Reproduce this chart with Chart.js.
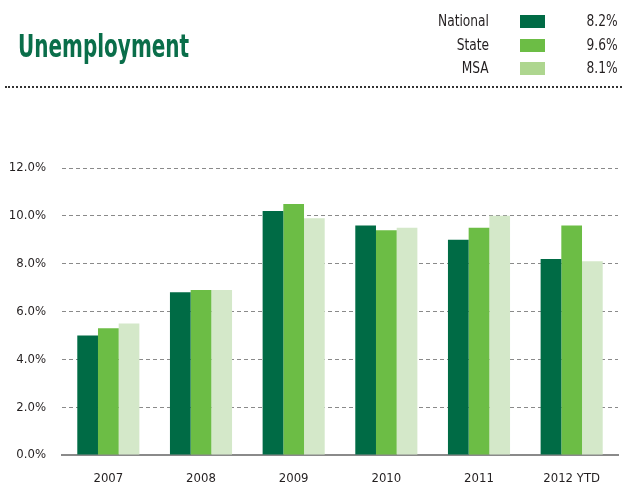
<!DOCTYPE html>
<html>
<head>
<meta charset="utf-8">
<script src="https://cdn.jsdelivr.net/npm/chart.js@4"></script>
<style>
  body { margin: 0; width: 627px; height: 485px; background: #fff; overflow: hidden;
         font-family: "DejaVu Sans Condensed", sans-serif; color: #231f20; }
  #wrap { position: absolute; left: 0; top: 0; width: 627px; height: 485px; }
  #title { position: absolute; left: 18px; top: 27px; font-size: 32px; font-weight: bold; color: #0a6e4a;
           transform-origin: left top; white-space: nowrap; }
  #dots { position: absolute; left: 5px; top: 86px; width: 617px; border-top: 2px dotted #333; }
  .lrow { position: absolute; left: 0; width: 627px; height: 20px; font-size: 16px; }
  .lrow .name { position: absolute; right: 138px; text-align: right; top: 0; white-space: nowrap;
                transform: scaleX(0.85); transform-origin: right top; }
  .lrow .sw { position: absolute; left: 520px; width: 25px; height: 13px; top: 4px; }
  .lrow .val { position: absolute; right: 9px; text-align: right; top: 0; white-space: nowrap;
               transform: scaleX(0.85); transform-origin: right top; }
</style>
</head>
<body>
<div id="wrap"><canvas id="chart1" width="627" height="485"></canvas></div>
<div id="title">Unemployment</div>
<div id="legend"></div>
<div id="dots"></div>
<script>
const categories = ["2007", "2008", "2009", "2010", "2011", "2012 YTD"];
const national = [5.0, 6.8, 10.2, 9.6, 9.0, 8.2];
const state = [5.3, 6.9, 10.5, 9.4, 9.5, 9.6];
const msa = [5.5, 6.9, 9.9, 9.5, 10.0, 8.1];
const seriesNames = ["National", "State", "MSA"];
const barColors = ["#006b45", "#6cbd45", "#d4e8c9"];
const legendColors = ["#006b45", "#6cbd45", "#aed68f"];

// squeeze the title to the condensed width of the original
const title = document.getElementById("title");
title.style.transform = "scaleX(" + (171 / title.offsetWidth) + ")";

// legend with latest values
const legend = document.getElementById("legend");
[national, state, msa].forEach((s, i) => {
  const row = document.createElement("div");
  row.className = "lrow";
  row.style.top = (11 + i * 23.5) + "px";
  row.innerHTML = '<span class="name">' + seriesNames[i] + '</span>' +
    '<span class="sw" style="background:' + legendColors[i] + '"></span>' +
    '<span class="val">' + s[s.length - 1].toFixed(1) + '%</span>';
  legend.appendChild(row);
});

const tickFont = { family: "'DejaVu Sans Condensed', sans-serif", size: 13 };

new Chart(document.getElementById("chart1"), {
  type: "bar",
  data: {
    labels: categories,
    datasets: [national, state, msa].map((d, i) => ({
      label: seriesNames[i],
      data: d,
      backgroundColor: barColors[i],
      borderWidth: 0,
      categoryPercentage: 0.67,
      barPercentage: 1,
    })),
  },
  options: {
    responsive: false,
    animation: false,
    layout: { padding: { top: 168, right: 9, left: 0, bottom: 0 } },
    plugins: { legend: { display: false }, tooltip: { enabled: false } },
    scales: {
      x: {
        grid: { display: false },
        border: { display: true, color: "#8a8a8a", width: 2 },
        ticks: { color: "#231f20", font: tickFont, padding: 8, maxRotation: 0 },
        afterFit: (s) => { s.height = 30; },
      },
      y: {
        min: 0,
        max: 12,
        ticks: {
          stepSize: 2,
          color: "#231f20",
          font: tickFont,
          padding: 16,
          callback: (v) => v.toFixed(1) + "%",
        },
        grid: {
          drawTicks: false,
          color: (c) => (c.tick && c.tick.value === 0 ? "rgba(0,0,0,0)" : "#8a8a8a"),
          lineWidth: 1,
        },
        border: { display: false, dash: [4, 3] },
        afterFit: (s) => { s.width = 62; },
      },
    },
  },
});
</script>
</body>
</html>
